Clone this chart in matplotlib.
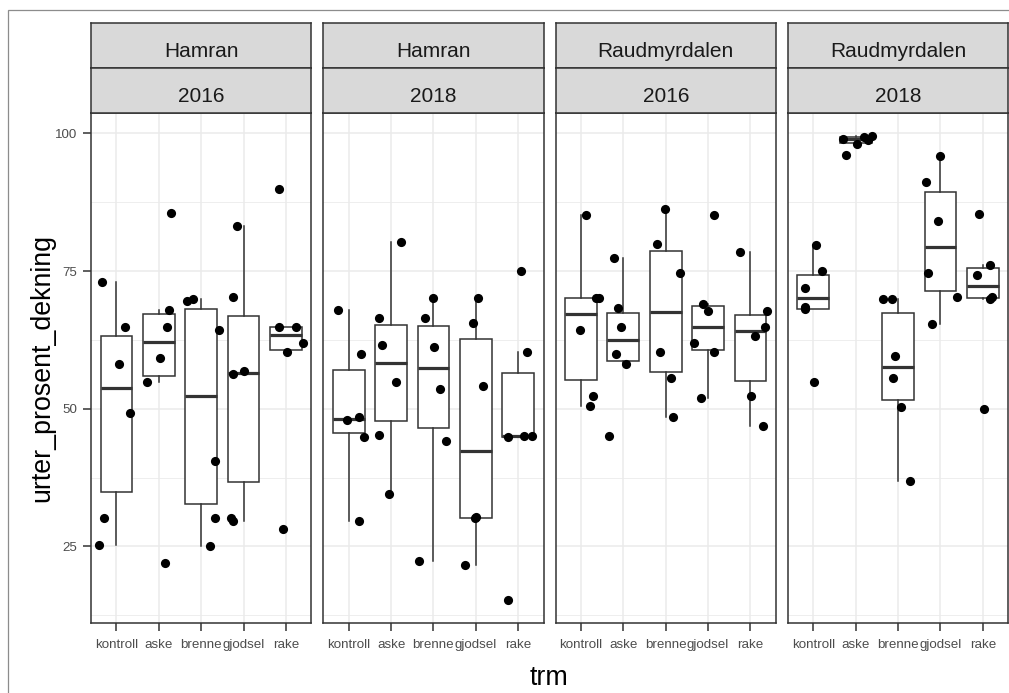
import matplotlib
matplotlib.use("Agg")
import numpy as np
import matplotlib.pyplot as plt
from matplotlib.patches import Rectangle

plt.rcParams['font.family'] = ['Liberation Sans', 'DejaVu Sans']

trm = ['kontroll', 'aske', 'brenne', 'gjodsel', 'rake']
sites = ['Hamran', 'Hamran', 'Raudmyrdalen', 'Raudmyrdalen']
years = ['2016', '2018', '2016', '2018']

# urter_prosent_dekning per plot, one list per treatment
hamran_2016 = [[73.1, 64.9, 58.2, 49.2, 30.1, 25.3],
               [85.5, 68.0, 64.9, 59.3, 54.9, 21.9],
               [69.5, 70.0, 64.3, 40.5, 30.1, 25.0],
               [83.1, 70.3, 56.3, 56.8, 30.2, 29.7],
               [89.9, 64.8, 64.9, 61.9, 60.3, 28.1]]
hamran_2018 = [[68.0, 59.9, 48.5, 47.9, 44.8, 29.7],
               [80.2, 66.4, 61.6, 54.9, 45.3, 34.5],
               [70.1, 66.4, 61.2, 53.6, 44.2, 22.3],
               [70.1, 65.6, 54.2, 30.3, 30.1, 21.6],
               [75.0, 60.3, 44.8, 45.1, 45.1, 15.3]]
raud_2016 = [[85.2, 70.1, 70.1, 64.3, 52.3, 50.5],
             [77.4, 68.3, 64.9, 59.9, 58.2, 45.1],
             [86.2, 79.9, 74.7, 60.3, 55.5, 48.5],
             [85.2, 69.0, 67.7, 61.9, 60.3, 52.0],
             [78.4, 67.7, 64.9, 63.3, 52.3, 46.9]]
raud_2018 = [[79.7, 75.0, 71.9, 68.4, 68.1, 54.9],
             [99.0, 96.0, 98.0, 99.4, 98.8, 99.5],
             [70.0, 70.0, 59.6, 55.5, 50.3, 36.8],
             [95.9, 91.1, 84.1, 74.7, 70.3, 65.4],
             [85.3, 76.1, 74.2, 70.3, 70.0, 49.9]]

# horizontal jitter of each point
hamran_2016_dx = [[-0.35, 0.20, 0.06, 0.33, -0.29, -0.40],
                  [0.30, 0.24, 0.20, 0.04, -0.28, 0.14],
                  [-0.33, -0.20, 0.42, 0.33, 0.32, 0.21],
                  [-0.16, -0.25, -0.24, 0.02, -0.29, -0.24],
                  [-0.16, -0.16, 0.25, 0.40, 0.02, -0.06]]
hamran_2018_dx = [[-0.25, 0.29, 0.24, -0.03, 0.37, 0.24],
                  [0.24, -0.28, -0.21, 0.11, -0.29, -0.06],
                  [-0.02, -0.19, 0.02, 0.16, 0.29, -0.34],
                  [0.04, -0.06, 0.17, 0.00, -0.02, -0.25],
                  [0.07, 0.21, -0.24, 0.14, 0.33, -0.24]]
raud_2016_dx = [[0.12, 0.35, 0.43, -0.02, 0.28, 0.21],
                [-0.23, -0.13, -0.06, -0.17, 0.05, -0.33],
                [-0.02, -0.20, 0.34, -0.14, 0.13, 0.17],
                [0.15, -0.12, -0.01, -0.33, 0.15, -0.16],
                [-0.24, 0.38, 0.34, 0.11, 0.02, 0.29]]
raud_2018_dx = [[0.06, 0.21, -0.19, -0.20, -0.20, 0.02],
                [-0.30, -0.24, 0.02, 0.19, 0.29, 0.39],
                [-0.36, -0.14, -0.07, -0.11, 0.06, 0.29],
                [-0.02, -0.33, -0.06, -0.29, 0.39, -0.19],
                [-0.08, 0.18, -0.13, 0.22, 0.18, 0.04]]

panel_vals = [hamran_2016, hamran_2018, raud_2016, raud_2018]
panel_dx = [hamran_2016_dx, hamran_2018_dx, raud_2016_dx, raud_2018_dx]

W, H = 1009.0, 693.0
fig = plt.figure(figsize=(W / 100, H / 100), dpi=100)

def px_box(x0, y0, x1, y1):
    return [x0 / W, 1 - y1 / H, (x1 - x0) / W, (y1 - y0) / H]

# light frame round the plot
fig.patches.append(Rectangle((8 / W, -0.1), 1.2, 1 - 10 / H + 0.1, transform=fig.transFigure,
                             fill=False, edgecolor='#8c8c8c', lw=0.9))

allv = np.concatenate([np.ravel(v) for v in panel_vals])
rng = allv.max() - allv.min()
ylim = (allv.min() - 0.05 * rng, allv.max() + 0.05 * rng)

dark = '#333333'
pos = np.arange(1, len(trm) + 1)
for i in range(4):
    x0 = 91 + i * 232.3
    x1 = x0 + 220.3
    ax = fig.add_axes(px_box(x0, 113, x1, 623))
    ax.set_xlim(0.4, 5.6)
    ax.set_ylim(*ylim)
    ax.set_yticks([25, 50, 75, 100])
    ax.set_yticks([12.5, 37.5, 62.5, 87.5], minor=True)
    ax.grid(which='major', color='#EBEBEB', lw=1.1)
    ax.grid(which='minor', axis='y', color='#EBEBEB', lw=0.6)
    ax.set_axisbelow(True)
    for s in ax.spines.values():
        s.set_color(dark)
        s.set_linewidth(1.1)

    vals = panel_vals[i]
    ax.boxplot(vals, positions=pos, widths=0.75, whis=1.5, showfliers=False, showcaps=False,
               patch_artist=True,
               boxprops=dict(facecolor='white', edgecolor=dark, linewidth=1.1),
               whiskerprops=dict(color=dark, linewidth=1.1),
               medianprops=dict(color=dark, linewidth=2.3),
               zorder=2)
    ax.set_xticks(pos)
    ax.set_xticklabels(trm)
    ax.tick_params(which='major', length=5.8, width=1.1, color=dark, labelcolor='#4D4D4D',
                   labelsize=9.6)
    ax.tick_params(axis='x', pad=5.5)
    ax.tick_params(axis='y', pad=4)
    ax.tick_params(which='minor', length=0)
    if i > 0:
        ax.tick_params(axis='y', left=False, labelleft=False)
    for k in range(len(trm)):
        xs = pos[k] + np.array(panel_dx[i][k])
        ax.plot(xs, vals[k], 'o', color='black', ms=6.6, mew=0, zorder=4, clip_on=False)

    # facet strips: site on top, year below
    for (ya, yb, base, label) in [(23, 67.5, 57, sites[i]), (67.5, 113, 102.5, years[i])]:
        sa = fig.add_axes(px_box(x0, ya, x1, yb))
        sa.set_facecolor('#D9D9D9')
        sa.set_xticks([])
        sa.set_yticks([])
        for s in sa.spines.values():
            s.set_color(dark)
            s.set_linewidth(1.1)
        fig.text((x0 + x1) / 2 / W, 1 - base / H, label, ha='center', va='baseline',
                 fontsize=15, color='#1A1A1A')

fig.text(549.5 / W, 1 - 678 / H, 'trm', ha='center', va='center', fontsize=19.3)
fig.text(42 / W, 1 - 368 / H, 'urter_prosent_dekning', ha='center', va='center',
         rotation=90, fontsize=19.3)

fig.savefig('out.png', dpi=100)
